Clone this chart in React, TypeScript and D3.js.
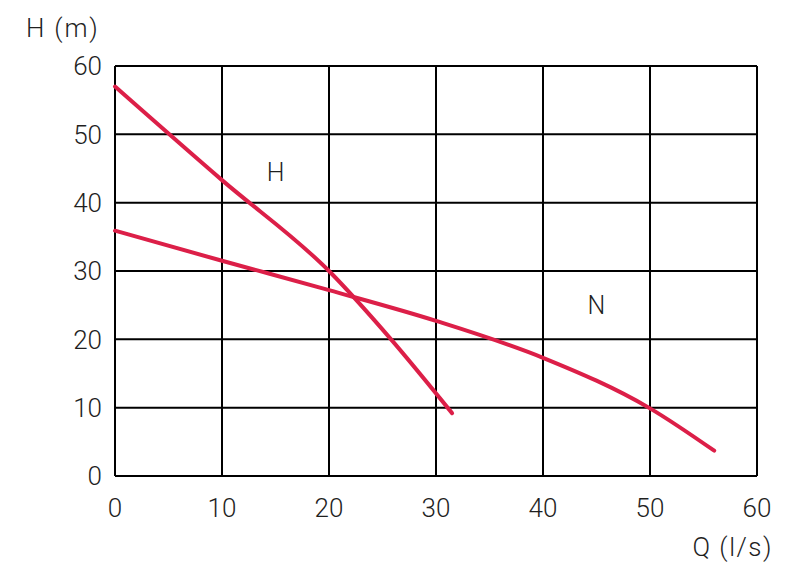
import * as d3 from "d3";
import React from "react";

// flow Q (l/s) vs head H (m)
const hFlow = [0, 10, 20, 25.8, 31.5];
const hHead = [57, 43.3, 30, 20, 9.2];
const nFlow = [0, 10, 20, 30, 40, 50, 56];
const nHead = [35.9, 31.5, 27.2, 22.7, 17.3, 9.9, 3.7];
const xTicks = [0, 10, 20, 30, 40, 50, 60];
const yTicks = [0, 10, 20, 30, 40, 50, 60];
const curveLabels = [
  { name: "H", q: 15, h: 44.5 },
  { name: "N", q: 45, h: 25 },
];

const W = 794;
const H = 566;
const m = { left: 115, right: 37, top: 66, bottom: 90 };
const red = "#dc1f48";
const ink = "#1f1f1f";
const font = "Roboto, 'Open Sans', sans-serif";

const App: React.FC = () => {
  const x = d3.scaleLinear().domain([0, 60]).range([m.left, W - m.right]);
  const y = d3.scaleLinear().domain([0, 60]).range([H - m.bottom, m.top]);

  const line = d3
    .line<[number, number]>()
    .x((d) => x(d[0]))
    .y((d) => y(d[1]))
    .curve(d3.curveMonotoneX);

  const hPts = hFlow.map((q, i) => [q, hHead[i]] as [number, number]);
  const nPts = nFlow.map((q, i) => [q, nHead[i]] as [number, number]);

  return (
    <svg
      width={W}
      height={H}
      style={{ position: "absolute", left: 0, top: 0, background: "#fff" }}
      fontFamily={font}
    >
      <g stroke="#000" strokeWidth={2}>
        {xTicks.map((t) => (
          <line key={"vx" + t} x1={x(t)} x2={x(t)} y1={y(0)} y2={y(60)} />
        ))}
        {yTicks.map((t) => (
          <line key={"hy" + t} x1={x(0)} x2={x(60)} y1={y(t)} y2={y(t)} />
        ))}
      </g>

      <g fill="none" stroke={red} strokeWidth={4} strokeLinecap="round">
        <path d={line(hPts) || ""} />
        <path d={line(nPts) || ""} />
      </g>

      <g fill={ink} fontSize={26} fontWeight={300}>
        {yTicks.map((t) => (
          <text key={"yl" + t} x={x(0) - 13} y={y(t)} dy="0.36em" textAnchor="end">
            {t}
          </text>
        ))}
        {xTicks.map((t) => (
          <text key={"xl" + t} x={x(t)} y={y(0) + 41} textAnchor="middle">
            {t}
          </text>
        ))}
        {curveLabels.map((c) => (
          <text key={c.name} x={x(c.q)} y={y(c.h)} dy="0.36em" textAnchor="middle" fontSize={25}>
            {c.name}
          </text>
        ))}
        <text x={26} y={37} letterSpacing={1.8}>
          H (m)
        </text>
        <text x={773} y={556} textAnchor="end" letterSpacing={1.5}>
          Q (l/s)
        </text>
      </g>
    </svg>
  );
};

export default App;
